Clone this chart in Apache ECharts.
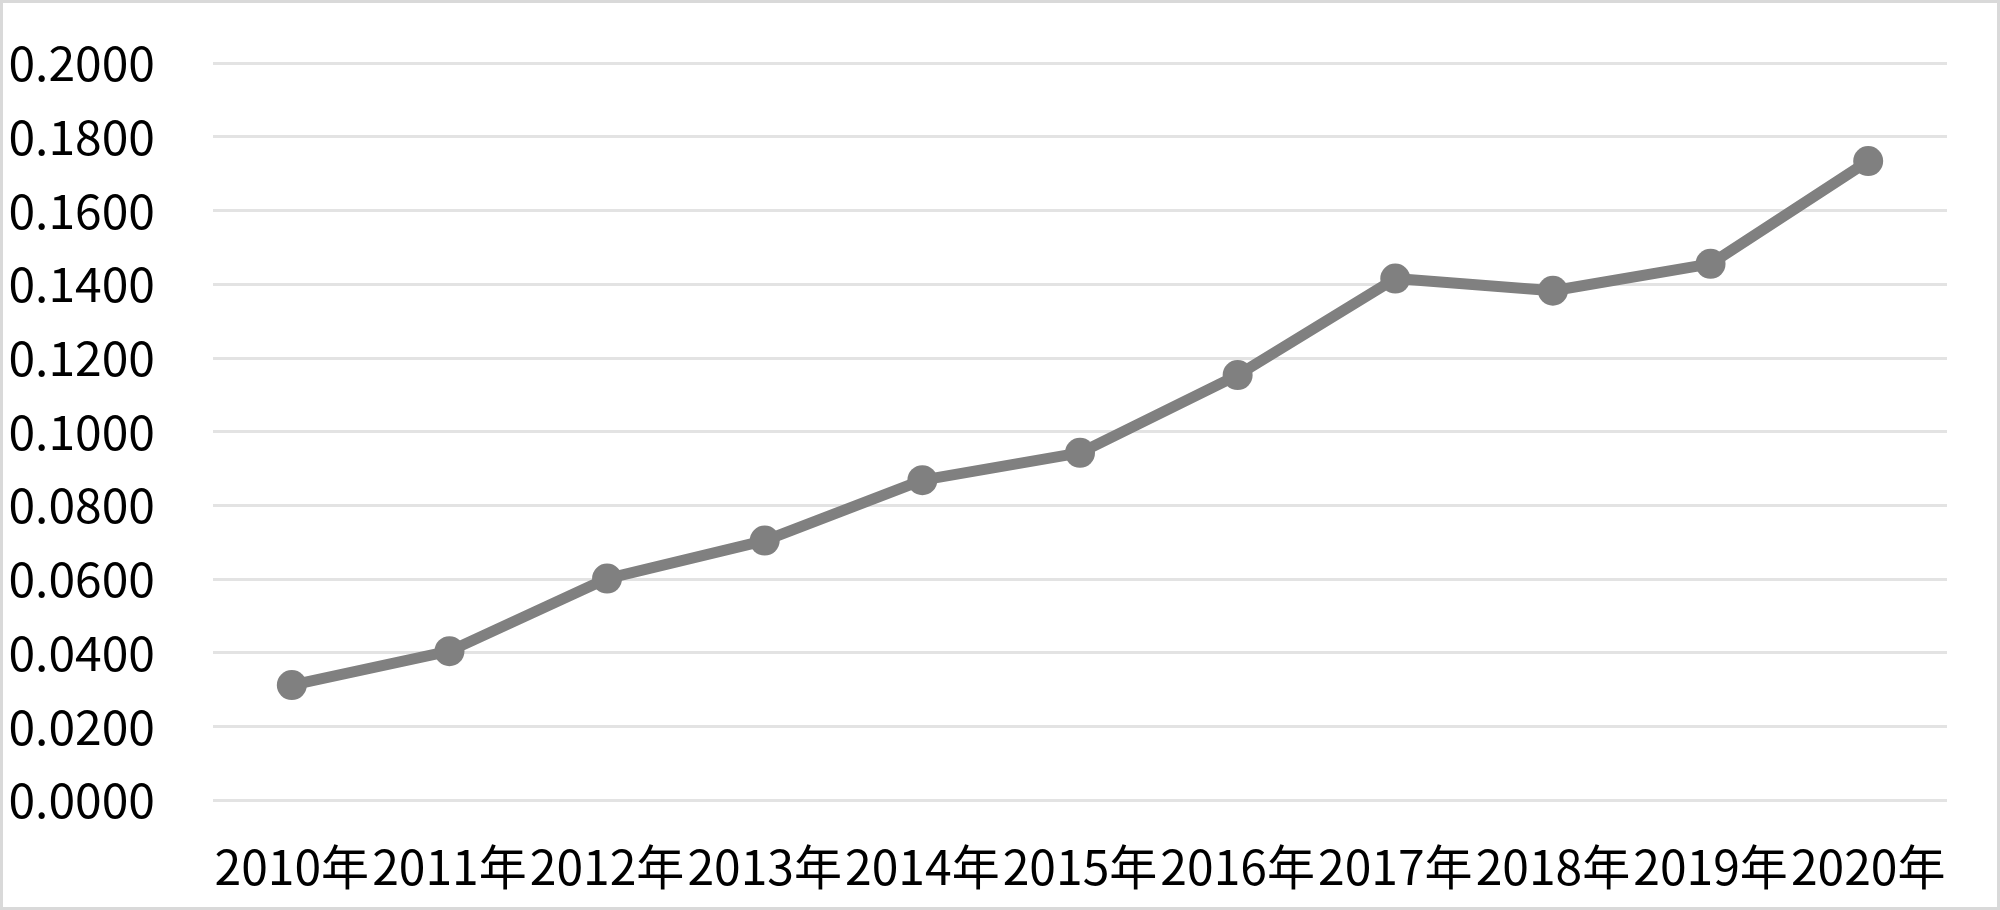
<!DOCTYPE html>
<html>
<head>
<meta charset="utf-8">
<style>
html,body{margin:0;padding:0;background:#fff;}
#chart{width:2000px;height:910px;}
</style>
<script src="https://cdn.jsdelivr.net/npm/echarts@6/dist/echarts.min.js"></script>
</head>
<body>
<div id="chart"></div>
<script>
const categories = ['2010年','2011年','2012年','2013年','2014年','2015年','2016年','2017年','2018年','2019年','2020年'];
const values = [0.0312, 0.0404, 0.0601, 0.0704, 0.0868, 0.0942, 0.1153, 0.1415, 0.1382, 0.1455, 0.1734];

const chart = echarts.init(document.getElementById('chart'), null, {renderer:'canvas'});
chart.setOption({
  backgroundColor: '#ffffff',
  animation: false,
  graphic: [{
    type: 'rect', silent: true,
    shape: {x: 1.5, y: 1.5, width: 1997, height: 907},
    style: {fill: 'none', stroke: '#d9d9d9', lineWidth: 3}
  }],
  grid: {left: 213, right: 53, top: 63, bottom: 110},
  xAxis: {
    type: 'category',
    data: categories,
    boundaryGap: true,
    axisLine: {show: false},
    axisTick: {show: false},
    axisLabel: {
      color: '#000', fontSize: 48, fontFamily: 'Noto Sans CJK SC',
      margin: 43, interval: 0
    }
  },
  yAxis: {
    type: 'value',
    min: 0, max: 0.2, interval: 0.02,
    axisLine: {show: false},
    axisTick: {show: false},
    splitLine: {lineStyle: {color: '#e3e3e3', width: 3}},
    axisLabel: {
      color: '#000', fontSize: 48, fontFamily: 'Noto Sans CJK SC',
      margin: 58,
      formatter: v => v.toFixed(4)
    }
  },
  series: [{
    type: 'line',
    data: values,
    symbol: 'circle',
    symbolSize: 30,
    lineStyle: {color: '#808080', width: 11},
    itemStyle: {color: '#808080'}
  }]
});
</script>
</body>
</html>
